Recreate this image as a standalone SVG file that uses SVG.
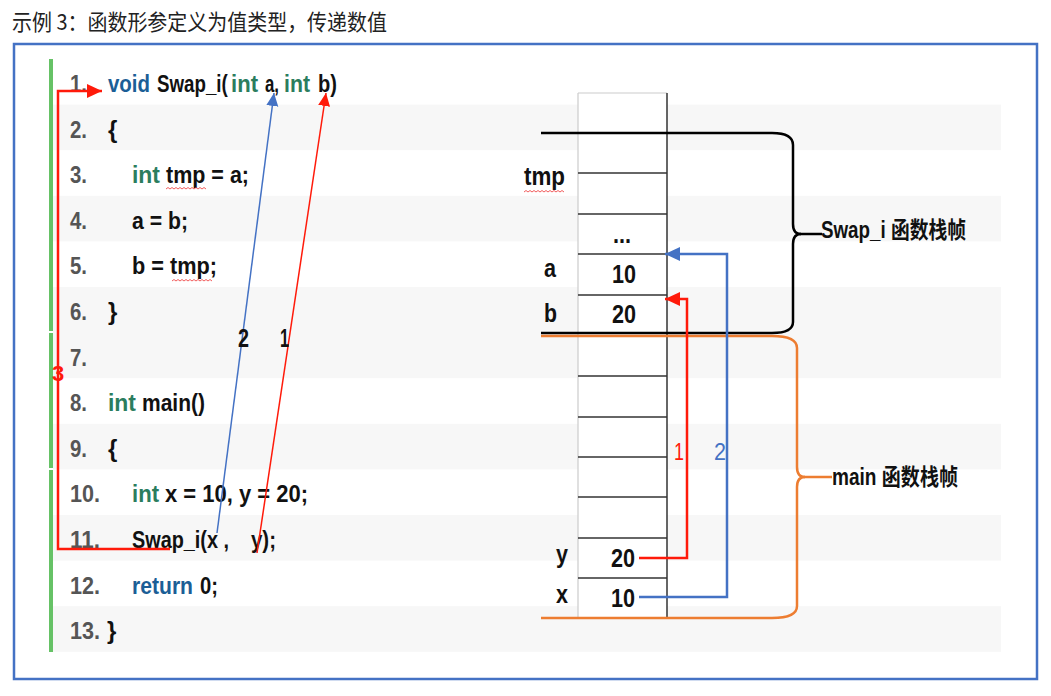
<svg xmlns="http://www.w3.org/2000/svg" width="1051" height="696" viewBox="0 0 1051 696">
<defs>
<style>
.ln{font-family:"Liberation Sans",sans-serif;font-weight:bold;font-size:23px;fill:#555}
.code{font-family:"Liberation Sans",sans-serif;font-weight:bold;font-size:24px;fill:#111;white-space:pre}
.kw{fill:#1b5e96}
.ty{fill:#2b7d5e}
.stk{font-family:"Liberation Sans",sans-serif;font-weight:bold;font-size:26px;fill:#111}
.lbl{font-family:"Liberation Sans","Noto Sans CJK SC",sans-serif;font-weight:bold;font-size:23px;fill:#111}
.stripe{fill:#f7f7f7}
.cell{stroke:#333;stroke-width:1.5}
.sq{fill:none;stroke:#e33;stroke-width:0.8}
</style>
<marker id="ahR" markerUnits="userSpaceOnUse" markerWidth="14" markerHeight="14" refX="13" refY="7" orient="auto"><path d="M0,1 L13,7 L0,13 z" fill="#ff1a0a"/></marker>
<marker id="ahB" markerUnits="userSpaceOnUse" markerWidth="14" markerHeight="14" refX="13" refY="7" orient="auto"><path d="M0,1 L13,7 L0,13 z" fill="#4472c4"/></marker>
<marker id="ahRs" markerUnits="userSpaceOnUse" markerWidth="16" markerHeight="14" refX="15" refY="7" orient="auto"><path d="M0,0 L15,7 L0,14 z" fill="#ff1a0a"/></marker>
<marker id="ahBs" markerUnits="userSpaceOnUse" markerWidth="16" markerHeight="14" refX="15" refY="7" orient="auto"><path d="M0,0 L15,7 L0,14 z" fill="#4472c4"/></marker>
</defs>
<rect width="1051" height="696" fill="#fff"/>
<text x="12" y="30" font-family="'Noto Sans CJK SC',sans-serif" font-size="22" fill="#222" textLength="375" lengthAdjust="spacingAndGlyphs">示例 3：函数形参定义为值类型，传递数值</text>
<rect x="14" y="44" width="1023" height="635" fill="none" stroke="#4472c4" stroke-width="2.5"/>

<g id="stripes">
<rect class="stripe" x="53" y="104.6" width="948" height="45.6"/>
<rect class="stripe" x="53" y="195.8" width="948" height="45.6"/>
<rect class="stripe" x="53" y="287" width="948" height="91.2"/>
<rect class="stripe" x="53" y="423.8" width="948" height="45.6"/>
<rect class="stripe" x="53" y="515" width="948" height="45.6"/>
<rect class="stripe" x="53" y="606.2" width="948" height="45.6"/>
</g>
<g id="greenbar" fill="#66c266">
<rect x="49" y="59" width="4" height="272"/>
<rect x="49" y="333" width="4" height="135"/>
<rect x="49" y="470" width="4" height="182"/>
</g>

<g id="code">
<text class="ln" x="70" y="92" textLength="17" lengthAdjust="spacingAndGlyphs">1.</text>
<text class="ln" x="70" y="137.6" textLength="17" lengthAdjust="spacingAndGlyphs">2.</text>
<text class="ln" x="70" y="183.2" textLength="17" lengthAdjust="spacingAndGlyphs">3.</text>
<text class="ln" x="70" y="228.8" textLength="17" lengthAdjust="spacingAndGlyphs">4.</text>
<text class="ln" x="70" y="274.4" textLength="17" lengthAdjust="spacingAndGlyphs">5.</text>
<text class="ln" x="70" y="320" textLength="17" lengthAdjust="spacingAndGlyphs">6.</text>
<text class="ln" x="70" y="365.6" textLength="17" lengthAdjust="spacingAndGlyphs">7.</text>
<text class="ln" x="70" y="411.2" textLength="17" lengthAdjust="spacingAndGlyphs">8.</text>
<text class="ln" x="70" y="456.8" textLength="17" lengthAdjust="spacingAndGlyphs">9.</text>
<text class="ln" x="70" y="502.4" textLength="30" lengthAdjust="spacingAndGlyphs">10.</text>
<text class="ln" x="70" y="548" textLength="30" lengthAdjust="spacingAndGlyphs">11.</text>
<text class="ln" x="70" y="593.6" textLength="30" lengthAdjust="spacingAndGlyphs">12.</text>
<text class="ln" x="70" y="639.2" textLength="30" lengthAdjust="spacingAndGlyphs">13.</text>

<text class="code kw" x="108" y="92" textLength="42" lengthAdjust="spacingAndGlyphs">void</text>
<text class="code" transform="translate(157,92) scale(0.78,1)">Swap_i(</text>
<text class="code ty" x="231" y="92" textLength="27" lengthAdjust="spacingAndGlyphs">int</text>
<text class="code" x="265" y="92" textLength="14" lengthAdjust="spacingAndGlyphs">a,</text>
<text class="code ty" x="284" y="92" textLength="26" lengthAdjust="spacingAndGlyphs">int</text>
<text class="code" x="318" y="92" textLength="19" lengthAdjust="spacingAndGlyphs">b)</text>
<text class="code" x="108" y="137.6">{</text>
<text class="code ty" x="132" y="183.2" textLength="28" lengthAdjust="spacingAndGlyphs">int</text>
<text class="code" x="166" y="183.2" textLength="83" lengthAdjust="spacingAndGlyphs">tmp = a;</text>
<text class="code" x="132" y="228.8" textLength="56" lengthAdjust="spacingAndGlyphs">a = b;</text>
<text class="code" x="132" y="274.4" textLength="85" lengthAdjust="spacingAndGlyphs">b = tmp;</text>
<text class="code" x="108" y="320">}</text>
<text class="code ty" x="108" y="411.2" textLength="28" lengthAdjust="spacingAndGlyphs">int</text>
<text class="code" x="142" y="411.2" textLength="63" lengthAdjust="spacingAndGlyphs">main()</text>
<text class="code" x="108" y="456.8">{</text>
<text class="code ty" x="132" y="502.4" textLength="27" lengthAdjust="spacingAndGlyphs">int</text>
<text class="code" x="165" y="502.4" textLength="143" lengthAdjust="spacingAndGlyphs">x = 10, y = 20;</text>
<text class="code" x="132" y="548" textLength="97" lengthAdjust="spacingAndGlyphs">Swap_i(x ,</text>
<text class="code" x="251" y="548" textLength="25" lengthAdjust="spacingAndGlyphs">y);</text>
<text class="code kw" x="132" y="593.6" textLength="61" lengthAdjust="spacingAndGlyphs">return</text>
<text class="code" x="200" y="593.6" textLength="18" lengthAdjust="spacingAndGlyphs">0;</text>
<text class="code" x="107" y="639.2">}</text>
<path class="sq" d="M166,189 l2,-1.5 l2,1.5 l2,-1.5 l2,1.5 l2,-1.5 l2,1.5 l2,-1.5 l2,1.5 l2,-1.5 l2,1.5 l2,-1.5 l2,1.5 l2,-1.5 l2,1.5 l2,-1.5 l2,1.5 l2,-1.5 l2,1.5 l2,-1.5 l2,1.5"/>
<path class="sq" d="M172,281 l2,-1.5 l2,1.5 l2,-1.5 l2,1.5 l2,-1.5 l2,1.5 l2,-1.5 l2,1.5 l2,-1.5 l2,1.5 l2,-1.5 l2,1.5 l2,-1.5 l2,1.5 l2,-1.5 l2,1.5 l2,-1.5 l2,1.5 l2,-1.5 l2,1.5"/>
</g>

<g id="stack">
<rect x="578" y="93" width="89" height="525" fill="#fff"/>
<line x1="578" y1="93" x2="667" y2="93" stroke="#ccc" stroke-width="1.2"/>
<line x1="578" y1="93" x2="578" y2="618" stroke="#ccc" stroke-width="1.2"/>
<line x1="667" y1="93" x2="667" y2="618" stroke="#333" stroke-width="1.5"/>
<line class="cell" x1="578" y1="173" x2="667" y2="173"/>
<line class="cell" x1="578" y1="214" x2="667" y2="214"/>
<line class="cell" x1="578" y1="254" x2="667" y2="254"/>
<line class="cell" x1="578" y1="295" x2="667" y2="295"/>
<line class="cell" x1="578" y1="376" x2="667" y2="376"/>
<line class="cell" x1="578" y1="417" x2="667" y2="417"/>
<line class="cell" x1="578" y1="457" x2="667" y2="457"/>
<line class="cell" x1="578" y1="497" x2="667" y2="497"/>
<line class="cell" x1="578" y1="538" x2="667" y2="538"/>
<line class="cell" x1="578" y1="578" x2="667" y2="578"/>
<text class="stk" x="524" y="185" font-size="24" textLength="41" lengthAdjust="spacingAndGlyphs">tmp</text>
<path class="sq" d="M524,192 l2,-1.5 l2,1.5 l2,-1.5 l2,1.5 l2,-1.5 l2,1.5 l2,-1.5 l2,1.5 l2,-1.5 l2,1.5 l2,-1.5 l2,1.5 l2,-1.5 l2,1.5 l2,-1.5 l2,1.5 l2,-1.5 l2,1.5 l2,-1.5 l2,1.5"/>
<text class="stk" x="613" y="243" textLength="18" lengthAdjust="spacingAndGlyphs">...</text>
<text class="stk" x="544" y="277" textLength="12" lengthAdjust="spacingAndGlyphs">a</text>
<text class="stk" x="612" y="283" textLength="24" lengthAdjust="spacingAndGlyphs">10</text>
<text class="stk" x="544" y="322" textLength="13" lengthAdjust="spacingAndGlyphs">b</text>
<text class="stk" x="612" y="323" textLength="24" lengthAdjust="spacingAndGlyphs">20</text>
<text class="stk" x="556" y="563" textLength="12" lengthAdjust="spacingAndGlyphs">y</text>
<text class="stk" x="611" y="567" font-size="27" textLength="24" lengthAdjust="spacingAndGlyphs">20</text>
<text class="stk" x="556" y="603" textLength="12" lengthAdjust="spacingAndGlyphs">x</text>
<text class="stk" x="611" y="607" font-size="27" textLength="24" lengthAdjust="spacingAndGlyphs">10</text>
</g>

<g id="frame-swap">
<path d="M541,133 H772 Q793,133 793,145 V224 Q793,234 801,234 Q793,234 793,244 V322 Q793,333 772,333 H541" fill="none" stroke="#000" stroke-width="2.5"/>
<line x1="800" y1="234" x2="822" y2="234" stroke="#000" stroke-width="2.5"/>
<text class="lbl" x="821" y="238" textLength="145" lengthAdjust="spacingAndGlyphs">Swap_i 函数栈帧</text>
</g>
<g id="frame-main">
<path d="M541,336 H772 Q797,336 797,348 V467 Q797,477 805,477 Q797,477 797,487 V606 Q797,618 772,618 H541" fill="none" stroke="#ed7d31" stroke-width="2.5"/>
<line x1="804" y1="477" x2="832" y2="477" stroke="#ed7d31" stroke-width="2.5"/>
<text class="lbl" x="832" y="485" textLength="126" lengthAdjust="spacingAndGlyphs">main 函数栈帧</text>
</g>

<g id="connectors">
<path d="M170,549 H58 V91 H102" fill="none" stroke="#ff1a0a" stroke-width="2.5" marker-end="url(#ahRs)"/>
<line x1="217" y1="533" x2="274" y2="93" stroke="#4472c4" stroke-width="1.5" marker-end="url(#ahB)"/>
<line x1="257" y1="553" x2="326" y2="93" stroke="#ff1a0a" stroke-width="1.5" marker-end="url(#ahR)"/>
<path d="M639,558 H687 V299 H665" fill="none" stroke="#ff1a0a" stroke-width="2.5" marker-end="url(#ahRs)"/>
<path d="M639,597 H727 V254 H665" fill="none" stroke="#4472c4" stroke-width="2.5" marker-end="url(#ahBs)"/>
<text x="58" y="381" text-anchor="middle" font-family="'Liberation Sans',sans-serif" font-weight="bold" font-size="22" fill="#ff1a0a">3</text>
<text x="238" y="347" font-family="'Liberation Sans',sans-serif" font-weight="bold" font-size="25" fill="#111" textLength="11" lengthAdjust="spacingAndGlyphs">2</text>
<text x="280" y="347" font-family="'Liberation Sans',sans-serif" font-weight="bold" font-size="25" fill="#111" textLength="9" lengthAdjust="spacingAndGlyphs">1</text>
<text x="674" y="460" font-family="'Liberation Sans',sans-serif" font-size="24" fill="#ff1a0a" textLength="10" lengthAdjust="spacingAndGlyphs">1</text>
<text x="714" y="460" font-family="'Liberation Sans',sans-serif" font-size="24" fill="#4472c4" textLength="12" lengthAdjust="spacingAndGlyphs">2</text>
</g>
</svg>
